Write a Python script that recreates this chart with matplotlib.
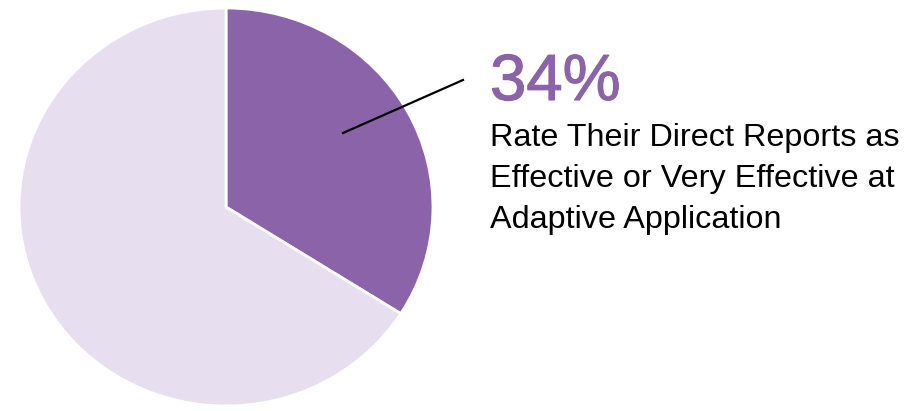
import matplotlib.pyplot as plt
import matplotlib.patheffects as pe

# datos del grafico
labels = ["Effective or Very Effective", "Other"]
values = [34, 66]
colors = ["#8B63A8", "#E7DFEF"]
pct_text = "34%"
desc_text = "Rate Their Direct Reports as\nEffective or Very Effective at\nAdaptive Application"

W, H = 922, 411
s = 1.04  # la imagen original esta un poco estirada en horizontal
fig = plt.figure(figsize=(W / 100, H / 100), dpi=100)
ax = fig.add_axes([0, 0, 1, 1])

# pastel, empezando arriba y en sentido horario
cx, cy, R = 226 / s, H - 207, 199
ax.pie(values, colors=colors, startangle=90, counterclock=False,
       center=(cx, cy), radius=R, frame=True,
       wedgeprops=dict(edgecolor="white", linewidth=2))
ax.set_xlim(0, W / s)
ax.set_ylim(0, H)
ax.set_aspect("auto")
ax.axis("off")

# linea guia
ax.plot([343 / s, 463 / s], [H - 133, H - 80], color="black", lw=1.6)

ax.text(490 / s, H - 100, pct_text, fontsize=47, color=colors[0],
        family="Liberation Sans", ha="left", va="baseline",
        path_effects=[pe.withStroke(linewidth=0.8, foreground=colors[0])])
ax.text(490 / s, H - 123, desc_text, fontsize=23.3, color="black",
        family="Liberation Sans", ha="left", va="top", linespacing=1.47)

fig.savefig("out.png", dpi=100)
